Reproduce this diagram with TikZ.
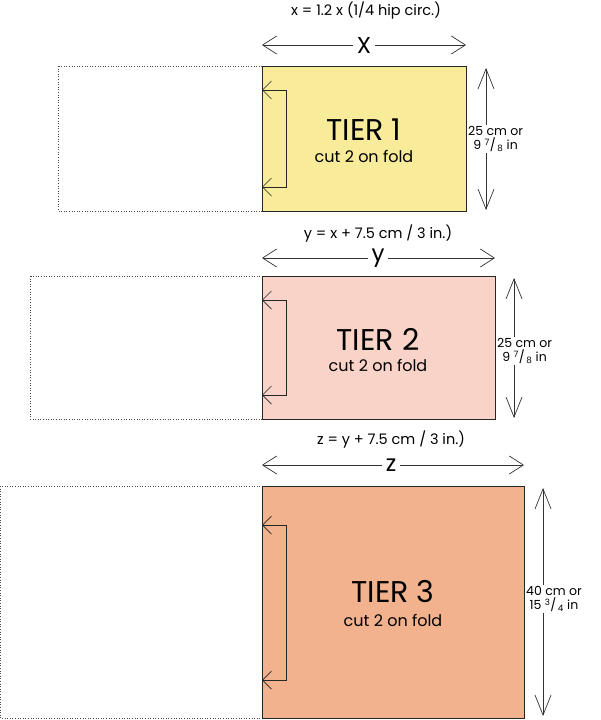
\documentclass[tikz,border=0pt]{standalone}
\usepackage{fontspec}
\setmainfont{Poppins}
\usetikzlibrary{arrows.meta}
\definecolor{tyel}{HTML}{F8EB9A}
\definecolor{tpink}{HTML}{F9D3C8}
\definecolor{torange}{HTML}{F2B28E}
\tikzset{
 panel/.style={draw=black!85,line width=0.8pt},
 ghost/.style={draw=black!70,dotted,line width=0.6pt},
 dimh/.style={draw=black!80,line width=0.7pt,{Straight Barb[length=14pt,width=18pt]}-{Straight Barb[length=14pt,width=18pt]}},
 dimv/.style={draw=black!80,line width=0.7pt,{Straight Barb[length=20pt,width=16pt]}-{Straight Barb[length=20pt,width=16pt]}},
 fold/.style={draw=black!85,line width=0.7pt,{Straight Barb[length=9pt,width=18pt]}-{Straight Barb[length=9pt,width=18pt]}},
 lbl/.style={font=\fontsize{14.5}{16}\selectfont,inner sep=1pt},
 big/.style={font=\fontsize{30}{32}\selectfont,inner sep=0pt},
 sub/.style={font=\fontsize{16}{18}\selectfont,inner sep=0pt},
 side/.style={font=\fontsize{12.5}{14}\selectfont,align=center,fill=white,inner sep=1pt,anchor=west},
 letter/.style={font=\fontsize{23}{24}\selectfont,fill=white,inner sep=4pt}
}
\newcommand{\frc}[2]{\textsuperscript{#1}/\textsubscript{\,#2}}
\begin{document}
\begin{tikzpicture}[x=1pt,y=-1pt]
\useasboundingbox (0,0) rectangle (600,720);
% tier 1
\draw[ghost] (58,66) rectangle (262,211);
\path[panel,fill=tyel] (262,66) rectangle (466,211);
\coordinate (f1a) at (262,90); \coordinate (f1b) at (262,187);
\draw[fold] (f1a) -- (286,90) -- (286,187) -- (f1b);
\node[big] (t1) at (364,130) {TIER 1};
\node[sub] (c1) at (364,156) {cut 2 on fold};
\node[lbl] (h1) at (366,11) {x = 1.2 x (1/4 hip circ.)};
\coordinate (a1l) at (262,45); \coordinate (a1r) at (466,45);
\draw[dimh] (a1l) -- (a1r);
\node[letter] (x1) at (364,45) {X};
\coordinate (v1t) at (486,68); \coordinate (v1b) at (486,210);
\draw[dimv] (v1t) -- (v1b);
\node[side] (s1) at (467,139) {25 cm or\\9 \frc{7}{8} in};
% tier 2
\draw[ghost] (30,276) rectangle (262,419);
\path[panel,fill=tpink] (262,276) rectangle (495,419);
\coordinate (f2a) at (262,300); \coordinate (f2b) at (262,395);
\draw[fold] (f2a) -- (286,300) -- (286,395) -- (f2b);
\node[big] (t2) at (378,339) {TIER 2};
\node[sub] (c2) at (378,365) {cut 2 on fold};
\node[lbl] (h2) at (378,234) {y = x + 7.5 cm / 3 in.)};
\coordinate (a2l) at (262,258); \coordinate (a2r) at (495,258);
\draw[dimh] (a2l) -- (a2r);
\node[letter] (y2) at (378,258) {y};
\coordinate (v2t) at (514,278); \coordinate (v2b) at (514,418);
\draw[dimv] (v2t) -- (v2b);
\node[side] (s2) at (496,351) {25 cm or\\9 \frc{7}{8} in};
% tier 3
\draw[ghost] (0,486) rectangle (262,718);
\path[panel,fill=torange] (262,486) rectangle (524,718);
\coordinate (f3a) at (262,525); \coordinate (f3b) at (262,680);
\draw[fold] (f3a) -- (286,525) -- (286,680) -- (f3b);
\node[big] (t3) at (393,592) {TIER 3};
\node[sub] (c3) at (393,620) {cut 2 on fold};
\node[lbl] (h3) at (391,440) {z = y + 7.5 cm / 3 in.)};
\coordinate (a3l) at (262,465); \coordinate (a3r) at (524,465);
\draw[dimh] (a3l) -- (a3r);
\node[letter] (z3) at (391,465) {z};
\coordinate (v3t) at (543,488); \coordinate (v3b) at (543,716);
\draw[dimv] (v3t) -- (v3b);
\node[side] (s3) at (525,599) {40 cm or\\15 \frc{3}{4} in};
\end{tikzpicture}
\end{document}
